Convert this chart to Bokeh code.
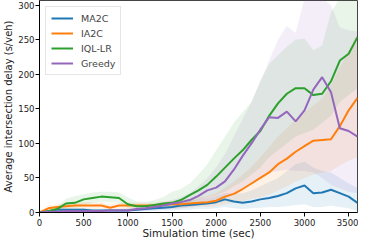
from bokeh.plotting import figure
from bokeh.models import Range1d, Legend, LegendItem, FixedTicker
from bokeh.embed import file_html
from bokeh.resources import INLINE

t = [i * 100 for i in range(37)]

ma2c = [0, 2, 4, 4, 4, 4, 3, 3, 3, 3, 3, 4, 5, 6, 7, 8, 10, 11, 12, 13, 15, 19, 16, 14, 16, 19, 21, 24, 28, 35, 39, 28, 29, 33, 28, 23, 14]
ma2c_lo = [0, 0, 1, 1, 1, 1, 1, 1, 1, 1, 1, 1, 2, 2, 3, 3, 4, 4, 5, 5, 6, 8, 6, 5, 6, 7, 8, 8, 9, 11, 12, 8, 8, 10, 8, 6, 2]
ma2c_hi = [0, 4, 6, 6, 6, 6, 5, 5, 5, 5, 5, 6, 7, 9, 11, 13, 15, 17, 19, 21, 24, 28, 28, 28, 32, 38, 44, 50, 60, 70, 74, 65, 60, 58, 50, 42, 36]

ia2c = [0, 6, 8, 9, 10, 10, 10, 10, 7, 10, 10, 10, 10, 10, 11, 12, 12, 13, 14, 15, 17, 23, 27, 34, 42, 50, 58, 70, 78, 88, 96, 104, 105, 106, 125, 148, 166]
ia2c_lo = [0, 3, 4, 5, 5, 5, 5, 5, 3, 5, 5, 5, 5, 5, 6, 6, 6, 7, 8, 8, 9, 12, 14, 16, 20, 22, 26, 32, 38, 45, 50, 55, 58, 60, 68, 75, 80]
ia2c_hi = [0, 10, 12, 14, 15, 15, 15, 15, 12, 14, 14, 14, 14, 15, 16, 17, 18, 20, 22, 24, 28, 36, 45, 55, 66, 80, 95, 110, 122, 135, 145, 155, 165, 185, 210, 235, 260]

iql = [0, 2, 5, 13, 14, 19, 21, 23, 22, 21, 12, 9, 9, 11, 13, 14, 18, 25, 32, 40, 52, 65, 78, 90, 105, 118, 140, 158, 172, 180, 180, 170, 172, 190, 220, 230, 254]
iql_lo = [0, 0, 2, 6, 6, 10, 14, 16, 15, 14, 6, 3, 4, 6, 7, 8, 10, 14, 18, 22, 25, 30, 38, 45, 55, 65, 80, 90, 100, 110, 115, 120, 130, 140, 160, 170, 180]
iql_hi = [0, 5, 8, 20, 24, 26, 29, 30, 30, 29, 22, 16, 15, 18, 22, 30, 34, 42, 55, 70, 90, 110, 130, 145, 160, 190, 215, 228, 240, 250, 252, 235, 242, 290, 310, 310, 310]

greedy = [0, 1, 1, 2, 2, 2, 2, 2, 3, 3, 3, 5, 6, 8, 10, 13, 15, 18, 24, 32, 36, 45, 62, 82, 100, 120, 138, 137, 146, 132, 148, 178, 196, 174, 122, 118, 110]
greedy_lo = [0, 0, 0, 0, 0, 0, 0, 0, 1, 1, 1, 2, 2, 3, 4, 5, 6, 8, 10, 14, 16, 20, 28, 35, 42, 50, 58, 60, 62, 60, 60, 58, 50, 40, 35, 30, 28]
greedy_hi = [0, 2, 3, 4, 4, 4, 4, 4, 5, 5, 6, 8, 10, 12, 15, 18, 22, 28, 38, 50, 65, 85, 110, 135, 160, 190, 220, 250, 270, 260, 310, 310, 310, 300, 268, 264, 262]

names = ["MA2C", "IA2C", "IQL-LR", "Greedy"]
colors = ["#1f77b4", "#ff7f0e", "#2ca02c", "#9467bd"]
series = [(ma2c, ma2c_lo, ma2c_hi), (ia2c, ia2c_lo, ia2c_hi), (iql, iql_lo, iql_hi), (greedy, greedy_lo, greedy_hi)]

x_ticks = [0, 500, 1000, 1500, 2000, 2500, 3000, 3500]
y_ticks = [0, 50, 100, 150, 200, 250, 300]

p = figure(width=358, height=241, output_backend="svg", toolbar_location=None,
           x_range=Range1d(0, 3600), y_range=Range1d(0, 307),
           min_border_left=20, min_border_right=1, min_border_top=0, min_border_bottom=20)
p.grid.visible = False
p.outline_line_color = "#444444"
p.background_fill_color = "white"
p.border_fill_color = "white"

for (m, lo, hi), c in zip(series, colors):
    p.varea(x=t, y1=lo, y2=hi, fill_color=c, fill_alpha=0.11)

items = []
for (m, lo, hi), c, n in zip(series, colors, names):
    r = p.line(t, m, line_color=c, line_width=2)
    items.append(LegendItem(label=n, renderers=[r]))

legend = Legend(items=items, location="top_left", label_text_font="DejaVu Sans",
                label_text_font_size="9.5px", glyph_width=22, glyph_height=12,
                label_standoff=8, spacing=3, padding=5, margin=6,
                border_line_color="#cccccc", label_height=12)
p.add_layout(legend)

p.xaxis.ticker = FixedTicker(ticks=x_ticks)
p.yaxis.ticker = FixedTicker(ticks=y_ticks)
for ax in (p.xaxis[0], p.yaxis[0]):
    ax.major_tick_in = 0
    ax.major_tick_out = 4
    ax.minor_tick_line_color = None
    ax.major_label_text_font = "DejaVu Sans"
    ax.major_label_text_font_size = "8.5px"
    ax.major_label_text_color = "#222222"
    ax.axis_label_text_font = "DejaVu Sans"
    ax.axis_label_text_font_size = "10.5px"
    ax.axis_label_text_font_style = "normal"
    ax.axis_label_text_color = "#222222"
    ax.axis_line_color = "black"
    ax.major_tick_line_color = "black"
p.yaxis.axis_label_text_font_size = "10px"
p.xaxis.axis_label = "Simulation time (sec)"
p.yaxis.axis_label = "Average intersection delay (s/veh)"
p.xaxis.axis_label_standoff = -2
p.yaxis.axis_label_standoff = 1
p.xaxis.major_label_standoff = 2
p.yaxis.major_label_standoff = 1

open("out.html", "w").write(file_html(p, INLINE))
